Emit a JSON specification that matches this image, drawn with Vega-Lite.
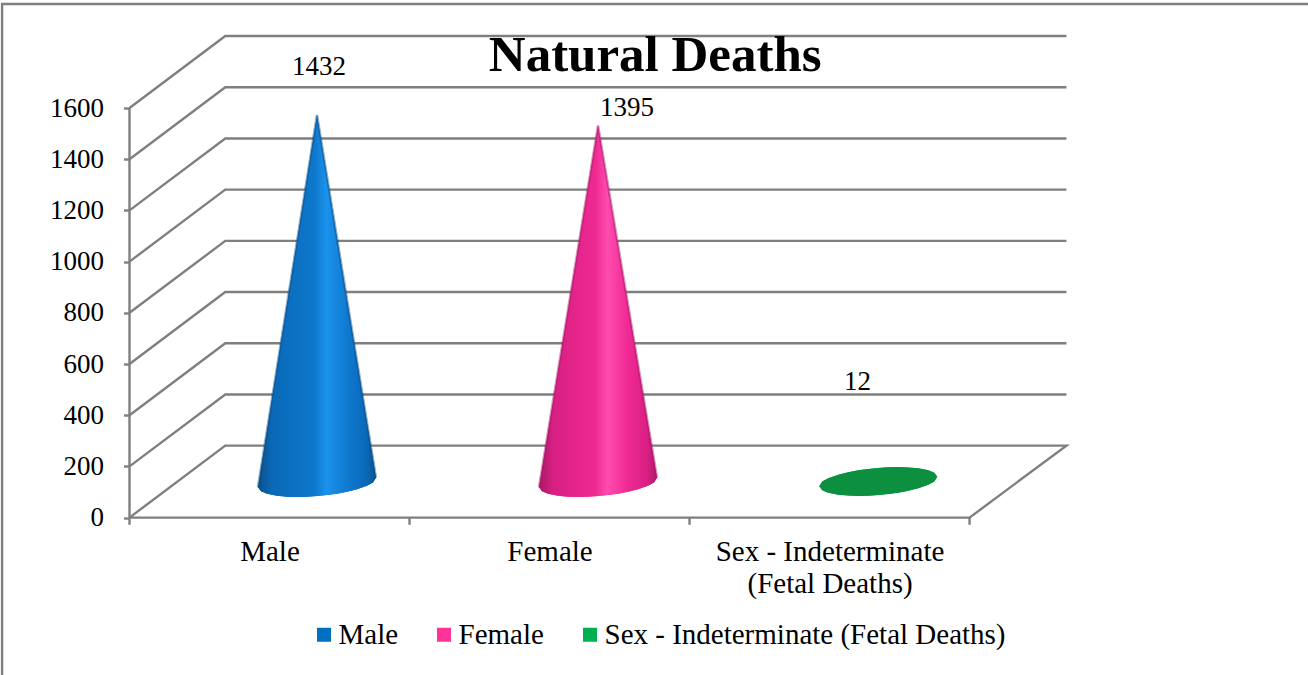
{"$schema":"https://vega.github.io/schema/vega-lite/v6.json","width":937.5,"height":481.6,"autosize":"none","padding":{"left":129.5,"top":36,"right":241,"bottom":157.4},"background":"white","config":{"view":{"stroke":null}},
"title":{"text":"Natural Deaths","font":"Liberation Serif","fontSize":51,"fontWeight":"bold","color":"#000000","anchor":"middle","frame":"group","dx":57,"offset":-83},
"datasets":{
"frame":[{"s":"frame","i":0,"x":-0.455,"y":-615},{"s":"frame","i":1,"x":-0.455,"y":2006},{"s":"frame","i":2,"x":4.3,"y":2006},
{"s":"floor","i":0,"x":0,"y":0},{"s":"floor","i":1,"x":3,"y":0},{"s":"floor","i":2,"x":3.346,"y":281},{"s":"floor","i":3,"x":0.342,"y":281},{"s":"floor","i":4,"x":0,"y":0},
{"s":"axis","i":0,"x":0,"y":0},{"s":"axis","i":1,"x":0,"y":1600},
{"s":"t0","i":0,"x":0,"y":0},{"s":"t0","i":1,"x":0,"y":-28},{"s":"t1","i":0,"x":1,"y":0},{"s":"t1","i":1,"x":1,"y":-28},{"s":"t2","i":0,"x":2,"y":0},{"s":"t2","i":1,"x":2,"y":-28},{"s":"t3","i":0,"x":3,"y":0},{"s":"t3","i":1,"x":3,"y":-28},
{"s":"g200","i":0,"x":0,"y":200},{"s":"g200","i":1,"x":0.342,"y":481},{"s":"g200","i":2,"x":3.346,"y":481},
{"s":"g400","i":0,"x":0,"y":400},{"s":"g400","i":1,"x":0.342,"y":681},{"s":"g400","i":2,"x":3.346,"y":681},
{"s":"g600","i":0,"x":0,"y":600},{"s":"g600","i":1,"x":0.342,"y":881},{"s":"g600","i":2,"x":3.346,"y":881},
{"s":"g800","i":0,"x":0,"y":800},{"s":"g800","i":1,"x":0.342,"y":1081},{"s":"g800","i":2,"x":3.346,"y":1081},
{"s":"g1000","i":0,"x":0,"y":1000},{"s":"g1000","i":1,"x":0.342,"y":1281},{"s":"g1000","i":2,"x":3.346,"y":1281},
{"s":"g1200","i":0,"x":0,"y":1200},{"s":"g1200","i":1,"x":0.342,"y":1481},{"s":"g1200","i":2,"x":3.346,"y":1481},
{"s":"g1400","i":0,"x":0,"y":1400},{"s":"g1400","i":1,"x":0.342,"y":1681},{"s":"g1400","i":2,"x":3.346,"y":1681},
{"s":"g1600","i":0,"x":0,"y":1600},{"s":"g1600","i":1,"x":0.342,"y":1881},{"s":"g1600","i":2,"x":3.346,"y":1881}],
"cones":[
{"c":"Male","x":0.4589,"y":118.6,"y2":118.6},{"c":"Male","x":0.4696,"y":192.9,"y2":103},{"c":"Male","x":0.491,"y":340.5,"y2":93.2},{"c":"Male","x":0.5267,"y":587,"y2":85.4},{"c":"Male","x":0.5625,"y":833.5,"y2":81.9},{"c":"Male","x":0.5982,"y":1079.6,"y2":80.7},{"c":"Male","x":0.6339,"y":1326,"y2":81.5},{"c":"Male","x":0.6696,"y":1572.5,"y2":83.9},{"c":"Male","x":0.7053,"y":1332.3,"y2":87.8},{"c":"Male","x":0.741,"y":1092.1,"y2":93.2},{"c":"Male","x":0.7767,"y":851.8,"y2":100.7},{"c":"Male","x":0.8125,"y":611.6,"y2":110.4},{"c":"Male","x":0.8482,"y":371.4,"y2":124.1},{"c":"Male","x":0.8696,"y":227.6,"y2":137.4},{"c":"Male","x":0.8803,"y":155.4,"y2":155.4},
{"c":"Female","x":1.4625,"y":118.6,"y2":118.6},{"c":"Female","x":1.4732,"y":190.4,"y2":103},{"c":"Female","x":1.4946,"y":334.2,"y2":93.2},{"c":"Female","x":1.5303,"y":574,"y2":85.4},{"c":"Female","x":1.5661,"y":813.3,"y2":81.9},{"c":"Female","x":1.6018,"y":1052.9,"y2":80.7},{"c":"Female","x":1.6375,"y":1292.4,"y2":81.5},{"c":"Female","x":1.6732,"y":1532,"y2":83.9},{"c":"Female","x":1.7089,"y":1298.7,"y2":87.8},{"c":"Female","x":1.7446,"y":1065.3,"y2":93.2},{"c":"Female","x":1.7803,"y":832,"y2":100.7},{"c":"Female","x":1.8161,"y":598.7,"y2":110.4},{"c":"Female","x":1.8518,"y":365.3,"y2":124.1},{"c":"Female","x":1.8732,"y":225.3,"y2":137.4},{"c":"Female","x":1.8839,"y":155.4,"y2":155.4},
{"c":"Sex - Indeterminate (Fetal Deaths)","x":2.4633,"y":122.6,"y2":122.6},{"c":"Sex - Indeterminate (Fetal Deaths)","x":2.474,"y":140.6,"y2":107},{"c":"Sex - Indeterminate (Fetal Deaths)","x":2.4954,"y":153.9,"y2":97.2},{"c":"Sex - Indeterminate (Fetal Deaths)","x":2.5311,"y":167.6,"y2":89.4},{"c":"Sex - Indeterminate (Fetal Deaths)","x":2.5669,"y":177.3,"y2":85.9},{"c":"Sex - Indeterminate (Fetal Deaths)","x":2.6026,"y":184.8,"y2":84.7},{"c":"Sex - Indeterminate (Fetal Deaths)","x":2.6383,"y":190.2,"y2":85.5},{"c":"Sex - Indeterminate (Fetal Deaths)","x":2.674,"y":194.1,"y2":87.9},{"c":"Sex - Indeterminate (Fetal Deaths)","x":2.7097,"y":196.5,"y2":91.8},{"c":"Sex - Indeterminate (Fetal Deaths)","x":2.7454,"y":197.3,"y2":97.2},{"c":"Sex - Indeterminate (Fetal Deaths)","x":2.7811,"y":196.1,"y2":104.7},{"c":"Sex - Indeterminate (Fetal Deaths)","x":2.8169,"y":192.6,"y2":114.4},{"c":"Sex - Indeterminate (Fetal Deaths)","x":2.8526,"y":184.8,"y2":128.1},{"c":"Sex - Indeterminate (Fetal Deaths)","x":2.874,"y":175,"y2":141.4},{"c":"Sex - Indeterminate (Fetal Deaths)","x":2.8847,"y":159.4,"y2":159.4}],
"labels":[{"c":"Male","value":1432,"x":0.677,"y":1760},{"c":"Female","value":1395,"x":1.777,"y":1600},{"c":"Sex - Indeterminate (Fetal Deaths)","value":12,"x":2.6,"y":530}]},
"encoding":{
"x":{"field":"x","type":"quantitative","title":null,"scale":{"domain":[0,3.348],"nice":false,"zero":false},"axis":{"values":[0.5,1.5,2.5],"domain":false,"grid":false,"ticks":false,"labelPadding":20,"labelFont":"Liberation Serif","labelFontSize":29,"labelColor":"#000000","labelLineHeight":32,"labelAngle":0,"labelFlush":false,"labelOverlap":false,"labelLimit":500,"labelBaseline":"top","labelExpr":"datum.value<1?'Male':datum.value<2?'Female':['Sex - Indeterminate','(Fetal Deaths)']"}},
"y":{"field":"y","type":"quantitative","title":null,"scale":{"domain":[0,1881.25],"nice":false,"zero":false},"axis":{"values":[0,200,400,600,800,1000,1200,1400,1600],"format":"d","domain":false,"grid":false,"tickSize":6,"tickWidth":2.4,"tickColor":"#7f7f7f","labelPadding":20,"labelFont":"Liberation Serif","labelFontSize":27,"labelColor":"#000000","labelFlush":false,"labelOverlap":false}}},
"layer":[
{"data":{"name":"frame"},"mark":{"type":"line","color":"#7f7f7f","strokeWidth":2.4,"clip":false},"encoding":{"detail":{"field":"s"},"order":{"field":"i"}}},
{"data":{"name":"cones"},"mark":{"type":"area","orient":"vertical"},"encoding":{"y2":{"field":"y2"},"color":{"field":"c","type":"nominal","scale":{"domain":["Male","Female","Sex - Indeterminate (Fetal Deaths)"],"range":["#0070c0","#ff3399","#00b050"]},"legend":{"title":null,"orient":"none","legendX":180,"legendY":584,"direction":"horizontal","columns":3,"symbolType":"square","symbolSize":196,"symbolStrokeWidth":0,"labelFont":"Liberation Serif","labelFontSize":29,"labelColor":"#000000","labelOffset":0,"columnPadding":31,"labelLimit":500}}}},
{"data":{"name":"cones"},"transform":[{"filter":"datum.c==='Male'"}],"mark":{"type":"area","orient":"vertical","color":{"gradient":"linear","x1":0,"y1":0,"x2":1,"y2":0,"stops":[{"offset":0,"color":"#0c4f88"},{"offset":0.12,"color":"#0a69b8"},{"offset":0.48,"color":"#0d78cc"},{"offset":0.58,"color":"#1b92ec"},{"offset":0.75,"color":"#0f7ad0"},{"offset":0.92,"color":"#0a68b8"},{"offset":1,"color":"#0b5590"}]}},"encoding":{"y2":{"field":"y2"}}},
{"data":{"name":"cones"},"transform":[{"filter":"datum.c==='Male'"}],"mark":{"type":"line","color":"#0b4a80","opacity":0.45,"strokeWidth":2.5},"encoding":{}},
{"data":{"name":"cones"},"transform":[{"filter":"datum.c==='Female'"}],"mark":{"type":"area","orient":"vertical","color":{"gradient":"linear","x1":0,"y1":0,"x2":1,"y2":0,"stops":[{"offset":0,"color":"#a81a68"},{"offset":0.12,"color":"#d81f82"},{"offset":0.48,"color":"#ee2a92"},{"offset":0.58,"color":"#ff4cae"},{"offset":0.75,"color":"#f02a94"},{"offset":0.92,"color":"#d81f82"},{"offset":1,"color":"#b01a6c"}]}},"encoding":{"y2":{"field":"y2"}}},
{"data":{"name":"cones"},"transform":[{"filter":"datum.c==='Female'"}],"mark":{"type":"line","color":"#a01864","opacity":0.45,"strokeWidth":2.5},"encoding":{}},
{"data":{"name":"cones"},"transform":[{"filter":"datum.c==='Sex - Indeterminate (Fetal Deaths)'"}],"mark":{"type":"area","orient":"vertical","color":"#0c8f3e"},"encoding":{"y2":{"field":"y2"}}},
{"data":{"name":"labels"},"mark":{"type":"text","font":"Liberation Serif","fontSize":27,"color":"#000000","align":"center","baseline":"middle"},"encoding":{"text":{"field":"value","type":"quantitative"}}}
]}
